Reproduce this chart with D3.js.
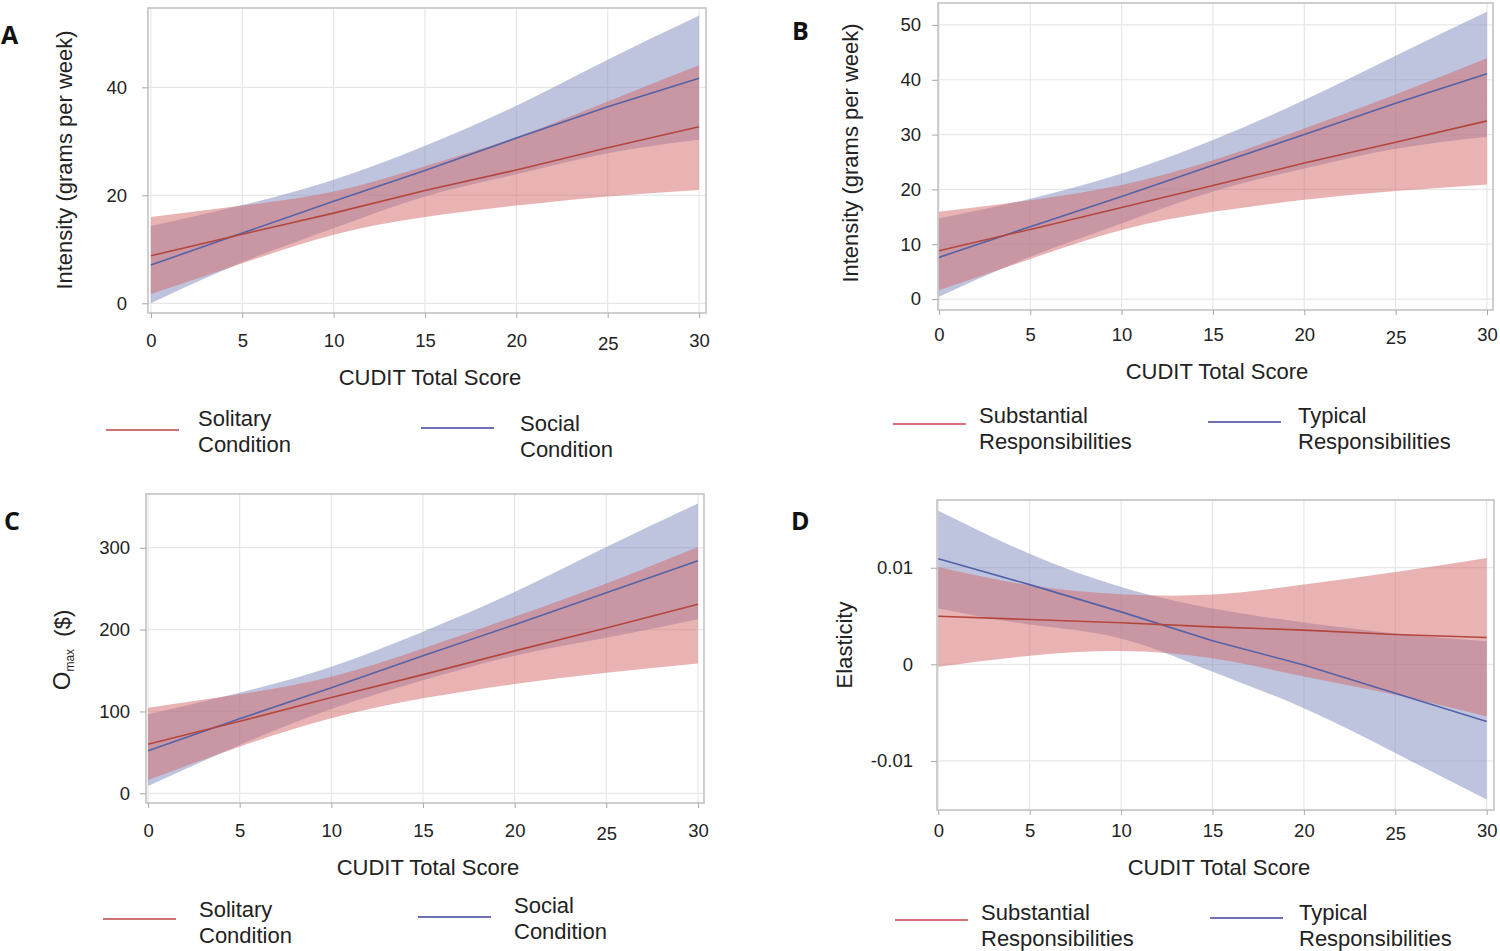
<!DOCTYPE html>
<html><head><meta charset="utf-8">
<script src="https://cdn.jsdelivr.net/npm/d3@7"></script>
<style>
body{margin:0;background:#fff;}
svg{display:block;font-family:"Liberation Sans",Arial,sans-serif;}
</style></head>
<body>
<svg id="chart" width="1500" height="951"></svg>
<script>
// ---------- data ----------
const xVals = [0, 5, 10, 15, 20, 25, 30];
const xTicks = [0, 5, 10, 15, 20, 25, 30];

// Panel A : Intensity, Solitary vs Social
const aYTicks = [0, 20, 40];
const aSolitaryFit   = [8.8, 12.8, 16.7, 20.9, 24.7, 28.8, 32.7];
const aSolitaryLower = [1.7, 7.4, 12.7, 16.0, 18.1, 19.8, 21.0];
const aSolitaryUpper = [16.0, 18.1, 20.7, 25.4, 30.8, 37.4, 44.1];
const aSocialFit     = [7.1, 13.0, 18.9, 24.6, 30.6, 36.4, 41.7];
const aSocialLower   = [0.0, 7.6, 13.9, 19.8, 23.9, 27.8, 30.3];
const aSocialUpper   = [14.3, 18.2, 22.9, 29.2, 36.6, 45.1, 53.3];

// Panel B : Intensity, Substantial vs Typical responsibilities
const bYTicks = [0, 10, 20, 30, 40, 50];
const bSubstantialFit   = [8.8, 12.7, 16.7, 20.7, 24.8, 28.6, 32.5];
const bSubstantialLower = [1.6, 7.3, 12.6, 15.9, 18.1, 19.7, 20.9];
const bSubstantialUpper = [15.9, 18.0, 20.8, 25.3, 31.1, 37.3, 43.9];
const bTypicalFit       = [7.6, 13.2, 18.7, 24.4, 30.0, 35.7, 41.1];
const bTypicalLower     = [0.4, 7.7, 13.8, 19.6, 23.8, 27.4, 29.6];
const bTypicalUpper     = [14.7, 18.3, 22.9, 29.0, 36.3, 44.4, 52.4];

// Panel C : Omax ($), Solitary vs Social
const cYTicks = [0, 100, 200, 300];
const cSolitaryFit   = [60, 88, 117, 145, 174, 202, 231];
const cSolitaryLower = [16.3, 57, 91.6, 116, 133.5, 147.3, 158.7];
const cSolitaryUpper = [104.6, 121, 142.5, 177, 215.7, 256.4, 301];
const cSocialFit     = [52, 91, 129, 168, 206, 245, 284];
const cSocialLower   = [9, 59, 103, 138, 168, 190, 212.5];
const cSocialUpper   = [96.5, 123, 154.7, 197.4, 246, 301, 354];

// Panel D : Elasticity, Substantial vs Typical responsibilities
const dYTicks = [-0.01, 0, 0.01];
const dSubstantialFit   = [0.00498, 0.00464, 0.00430, 0.00388, 0.00354, 0.00309, 0.00278];
const dSubstantialLower = [-0.00024, 0.00089, 0.00137, 0.00062, -0.00127, -0.00316, -0.00540];
const dSubstantialUpper = [0.01007, 0.00818, 0.00725, 0.00722, 0.00825, 0.00955, 0.01100];
const dTypicalFit       = [0.01093, 0.00825, 0.00543, 0.00244, -0.00007, -0.00300, -0.00591];
const dTypicalLower     = [0.00577, 0.00412, 0.00268, -0.00076, -0.00454, -0.00918, -0.01399];
const dTypicalUpper     = [0.01590, 0.01144, 0.00800, 0.00577, 0.00433, 0.00320, 0.00240];

const legendSolitary = ["Solitary", "Condition"];
const legendSocial = ["Social", "Condition"];
const legendSubstantial = ["Substantial", "Responsibilities"];
const legendTypical = ["Typical", "Responsibilities"];

// ---------- styles ----------
const RED_BAND = "rgb(211,103,103)";
const BLUE_BAND = "rgb(125,137,189)";
const RED_LINE = "#b4473d";
const BLUE_LINE = "#5462a8";
const RED_LEG = "#cf7474";
const BLUE_LEG = "#6f6fb6";
const FONT = "Liberation Sans, Arial, sans-serif";

const svg = d3.select("#chart");

function panel(cfg) {
  const g = svg.append("g");
  const f = cfg.frame;
  const x = d3.scaleLinear().domain(cfg.xDomain).range([f.left, f.right]);
  const y = d3.scaleLinear().domain(cfg.yDomain).range([f.bottom, f.top]);

  // grid
  g.selectAll(".vg").data(xTicks).enter().append("line")
    .attr("x1", d => x(d)).attr("x2", d => x(d))
    .attr("y1", f.top).attr("y2", f.bottom)
    .attr("stroke", "#e7e7e7").attr("stroke-width", 1.2);
  g.selectAll(".hg").data(cfg.yTicks).enter().append("line")
    .attr("x1", f.left).attr("x2", f.right)
    .attr("y1", d => y(d)).attr("y2", d => y(d))
    .attr("stroke", "#e7e7e7").attr("stroke-width", 1.2);

  const area = (lo, hi) => d3.area()
    .x((d, i) => x(xVals[i]))
    .y0((d, i) => y(lo[i]))
    .y1((d, i) => y(hi[i]))
    .curve(d3.curveNatural)(xVals);
  const line = vals => d3.line()
    .x((d, i) => x(xVals[i]))
    .y((d, i) => y(vals[i]))
    .curve(d3.curveLinear)(xVals);

  g.append("path").attr("d", area(cfg.blue.lo, cfg.blue.hi))
    .attr("fill", BLUE_BAND).attr("fill-opacity", 0.5);
  g.append("path").attr("d", area(cfg.red.lo, cfg.red.hi))
    .attr("fill", RED_BAND).attr("fill-opacity", 0.5);
  g.append("path").attr("d", line(cfg.blue.fit))
    .attr("fill", "none").attr("stroke", BLUE_LINE).attr("stroke-width", 1.6);
  g.append("path").attr("d", line(cfg.red.fit))
    .attr("fill", "none").attr("stroke", RED_LINE).attr("stroke-width", 1.6);

  // frame
  g.append("rect").attr("x", f.left).attr("y", f.top)
    .attr("width", f.right - f.left).attr("height", f.bottom - f.top)
    .attr("fill", "none").attr("stroke", "#c3c3c3").attr("stroke-width", 1.6);

  // axes
  const xAxis = d3.axisBottom(x).tickValues(xTicks).tickSize(5).tickSizeOuter(0)
    .tickFormat(d3.format("d"));
  const gx = g.append("g").attr("transform", `translate(0,${f.bottom})`).call(xAxis);
  gx.select(".domain").remove();
  gx.selectAll(".tick line").attr("stroke", "#a8a8a8");
  gx.selectAll(".tick text").attr("font-size", 18.5).attr("fill", "#222")
    .attr("font-family", FONT)
    .attr("dy", null).attr("y", d => cfg.xLabelOffset + (d === 25 ? 3 : 0));

  const yAxis = d3.axisLeft(y).tickValues(cfg.yTicks).tickSize(6).tickSizeOuter(0)
    .tickFormat(cfg.yFormat);
  const gy = g.append("g").attr("transform", `translate(${f.left},0)`).call(yAxis);
  gy.select(".domain").remove();
  gy.selectAll(".tick line").attr("stroke", "#a8a8a8");
  gy.selectAll(".tick text").attr("font-size", 18.5).attr("fill", "#222")
    .attr("font-family", FONT)
    .attr("x", -cfg.yLabelGap);

  // x title
  g.append("text").attr("x", cfg.xTitle[0]).attr("y", cfg.xTitle[1])
    .attr("text-anchor", "middle").attr("font-size", 22).attr("fill", "#222")
    .text("CUDIT Total Score");

  // y title
  const yt = g.append("text")
    .attr("transform", `translate(${cfg.yTitle[0]},${cfg.yTitle[1]}) rotate(-90)`)
    .attr("text-anchor", "middle").attr("font-size", 22).attr("fill", "#222");
  if (cfg.omax) {
    yt.append("tspan").attr("font-size", 24).text("O");
    yt.append("tspan").attr("font-size", 12).attr("dy", 4).text("max");
    yt.append("tspan").attr("font-size", 22).attr("dy", -4).text("\u00a0 ($)");
  } else {
    yt.text(cfg.yTitleText);
  }

  // panel letter
  g.append("text").attr("x", cfg.letter[0]).attr("y", cfg.letter[1])
    .attr("font-size", 25).attr("font-weight", "bold").attr("fill", "#111")
    .attr("font-family", "Open Sans, Liberation Sans, sans-serif")
    .text(cfg.letterText);

  // legend
  cfg.legend.forEach(L => {
    g.append("line").attr("x1", L.x1).attr("x2", L.x1 + 73)
      .attr("y1", L.ly).attr("y2", L.ly)
      .attr("stroke", L.color).attr("stroke-width", 2.2);
    L.text.forEach((t, i) => {
      g.append("text").attr("x", L.tx).attr("y", L.ty + i * 26)
        .attr("font-size", 22).attr("fill", "#222").text(t);
    });
  });
}

panel({
  frame: {left: 148, right: 706, top: 8, bottom: 313},
  xDomain: [-0.16, 30.38], yDomain: [-1.8, 54.7], yTicks: aYTicks,
  yFormat: d3.format("d"), xLabelOffset: 34, yLabelGap: 21,
  red: {fit: aSolitaryFit, lo: aSolitaryLower, hi: aSolitaryUpper},
  blue: {fit: aSocialFit, lo: aSocialLower, hi: aSocialUpper},
  xTitle: [430, 385], yTitle: [72, 160], yTitleText: "Intensity (grams per week)",
  letter: [1, 44], letterText: "A",
  legend: [
    {x1: 106, ly: 430, color: RED_LEG, tx: 198, ty: 426, text: legendSolitary},
    {x1: 421, ly: 428, color: BLUE_LEG, tx: 520, ty: 431, text: legendSocial}
  ]
});

panel({
  frame: {left: 938, right: 1493, top: 3, bottom: 310},
  xDomain: [-0.05, 30.33], yDomain: [-2.0, 54.0], yTicks: bYTicks,
  yFormat: d3.format("d"), xLabelOffset: 31, yLabelGap: 17,
  red: {fit: bSubstantialFit, lo: bSubstantialLower, hi: bSubstantialUpper},
  blue: {fit: bTypicalFit, lo: bTypicalLower, hi: bTypicalUpper},
  xTitle: [1217, 379], yTitle: [858, 153], yTitleText: "Intensity (grams per week)",
  letter: [792, 40], letterText: "B",
  legend: [
    {x1: 893, ly: 424, color: RED_LEG, tx: 979, ty: 423, text: legendSubstantial},
    {x1: 1208, ly: 422, color: BLUE_LEG, tx: 1298, ty: 423, text: legendTypical}
  ]
});

panel({
  frame: {left: 146, right: 704, top: 494, bottom: 803},
  xDomain: [-0.11, 30.33], yDomain: [-11.8, 365.6], yTicks: cYTicks,
  yFormat: d3.format("d"), xLabelOffset: 34, yLabelGap: 16,
  red: {fit: cSolitaryFit, lo: cSolitaryLower, hi: cSolitaryUpper},
  blue: {fit: cSocialFit, lo: cSocialLower, hi: cSocialUpper},
  xTitle: [428, 875], yTitle: [70, 650], omax: true,
  letter: [4, 530], letterText: "C",
  legend: [
    {x1: 103, ly: 919, color: RED_LEG, tx: 199, ty: 917, text: legendSolitary},
    {x1: 418, ly: 917, color: BLUE_LEG, tx: 514, ty: 913, text: legendSocial}
  ]
});

panel({
  frame: {left: 937, right: 1494, top: 500, bottom: 810},
  xDomain: [-0.07, 30.4], yDomain: [-0.01508, 0.01701], yTicks: dYTicks,
  yFormat: d => d === 0 ? "0" : (d < 0 ? "-" : "") + d3.format(".2f")(Math.abs(d)),
  xLabelOffset: 27, yLabelGap: 24,
  red: {fit: dSubstantialFit, lo: dSubstantialLower, hi: dSubstantialUpper},
  blue: {fit: dTypicalFit, lo: dTypicalLower, hi: dTypicalUpper},
  xTitle: [1219, 875], yTitle: [852, 645], yTitleText: "Elasticity",
  letter: [791, 530], letterText: "D",
  legend: [
    {x1: 895, ly: 920, color: RED_LEG, tx: 981, ty: 920, text: legendSubstantial},
    {x1: 1210, ly: 918, color: BLUE_LEG, tx: 1299, ty: 920, text: legendTypical}
  ]
});
</script>
</body></html>
